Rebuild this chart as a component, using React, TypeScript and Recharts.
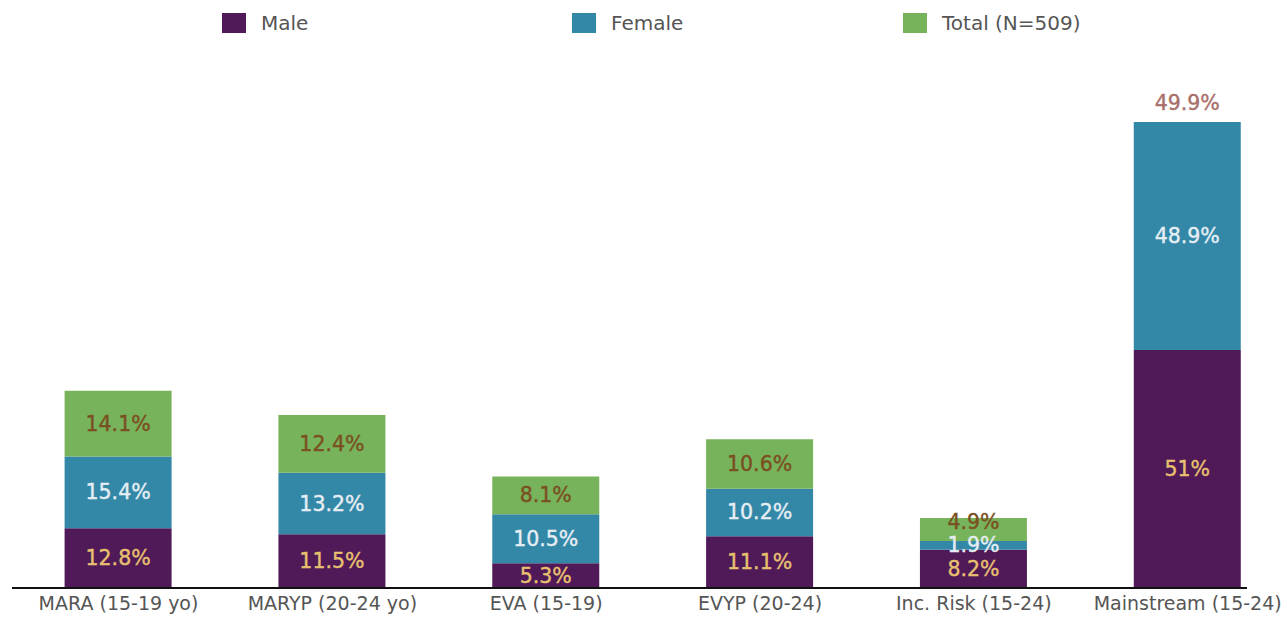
import React from 'react';
import { BarChart, Bar, XAxis, YAxis, LabelList } from 'recharts';

const categories = ['MARA (15-19 yo)', 'MARYP (20-24 yo)', 'EVA (15-19)', 'EVYP (20-24)', 'Inc. Risk (15-24)', 'Mainstream (15-24)'];
const maleValues = [12.8, 11.5, 5.3, 11.1, 8.2, 51];
const femaleValues = [15.4, 13.2, 10.5, 10.2, 1.9, 48.9];
const totalValues = [14.1, 12.4, 8.1, 10.6, 4.9, 49.9];
const totalSegmentDrawn = [true, true, true, true, true, false];
const maleLabels = ['12.8%', '11.5%', '5.3%', '11.1%', '8.2%', '51%'];
const femaleLabels = ['15.4%', '13.2%', '10.5%', '10.2%', '1.9%', '48.9%'];
const totalLabels = ['14.1%', '12.4%', '8.1%', '10.6%', '4.9%', '49.9%'];

const data = categories.map((name, i) => ({
  name,
  male: maleValues[i],
  female: femaleValues[i],
  total: totalSegmentDrawn[i] ? totalValues[i] : 0,
}));

const COLORS = { male: '#4f1a57', female: '#3388a8', total: '#77b35a' };
const FONT = '"DejaVu Sans", sans-serif';
const LABEL_SIZE = 20.5;

const labelText = (x: number, y: number, fill: string, text: string, key?: string) => (
  <text key={key} x={x} y={y} textAnchor="middle" dominantBaseline="central" fill={fill}
    fontFamily={FONT} fontSize={LABEL_SIZE} stroke={fill} strokeWidth={0.4}>
    {text}
  </text>
);

const makeLabel = (labels: string[], color: string, kind: 'male' | 'female' | 'total') => (props: any) => {
  const { x, y, width, height, index } = props;
  if (kind === 'total' && !totalSegmentDrawn[index]) return null;
  const cx = Number(x) + Number(width) / 2;
  const h = Number(height);
  let cy = Number(y) + h / 2;
  if (kind === 'total' && h < 30) cy -= 7;
  const main = labelText(cx, cy, color, labels[index], 'm');
  if (kind === 'female' && !totalSegmentDrawn[index]) {
    return (
      <g>
        {main}
        {labelText(cx, Number(y) - 19, '#a8706a', totalLabels[index], 't')}
      </g>
    );
  }
  return main;
};

const legendItems = [
  { label: 'Male', color: COLORS.male, left: 222 },
  { label: 'Female', color: COLORS.female, left: 572 },
  { label: 'Total (N=509)', color: COLORS.total, left: 903 },
];

export default function App() {
  return (
    <div style={{ position: 'fixed', left: 0, top: 0, width: 1287, height: 617, overflow: 'hidden', background: '#fff' }}>
      {legendItems.map((it) => (
        <div key={it.label} style={{ position: 'absolute', left: it.left, top: 13, display: 'flex', alignItems: 'center', zIndex: 2 }}>
          <span style={{ display: 'inline-block', width: 24, height: 20, background: it.color }} />
          <span style={{ marginLeft: 15, fontFamily: FONT, fontSize: 20, color: '#555', lineHeight: '20px' }}>{it.label}</span>
        </div>
      ))}
      <BarChart width={1300} height={617} data={data}
        margin={{ top: 121.5, right: 5.4, bottom: 0, left: 11.6 }}>
        <XAxis dataKey="name" height={29} axisLine={false} tickLine={false} tickSize={0} tickMargin={9}
          interval={0} tick={{ fill: '#555', fontSize: 19, fontFamily: FONT }} />
        <YAxis hide domain={[0, 100]} />
        <Bar dataKey="male" stackId="a" fill={COLORS.male} barSize={107} isAnimationActive={false}>
          <LabelList dataKey="male" content={makeLabel(maleLabels, '#e8c070', 'male')} />
        </Bar>
        <Bar dataKey="female" stackId="a" fill={COLORS.female} barSize={107} isAnimationActive={false}>
          <LabelList dataKey="female" content={makeLabel(femaleLabels, '#e6eef4', 'female')} />
        </Bar>
        <Bar dataKey="total" stackId="a" fill={COLORS.total} barSize={107} isAnimationActive={false}>
          <LabelList dataKey="total" content={makeLabel(totalLabels, '#7a4f22', 'total')} />
        </Bar>
      </BarChart>
      <div style={{ position: 'absolute', left: 12, top: 587, width: 1235, height: 2, background: '#111' }} />
    </div>
  );
}
